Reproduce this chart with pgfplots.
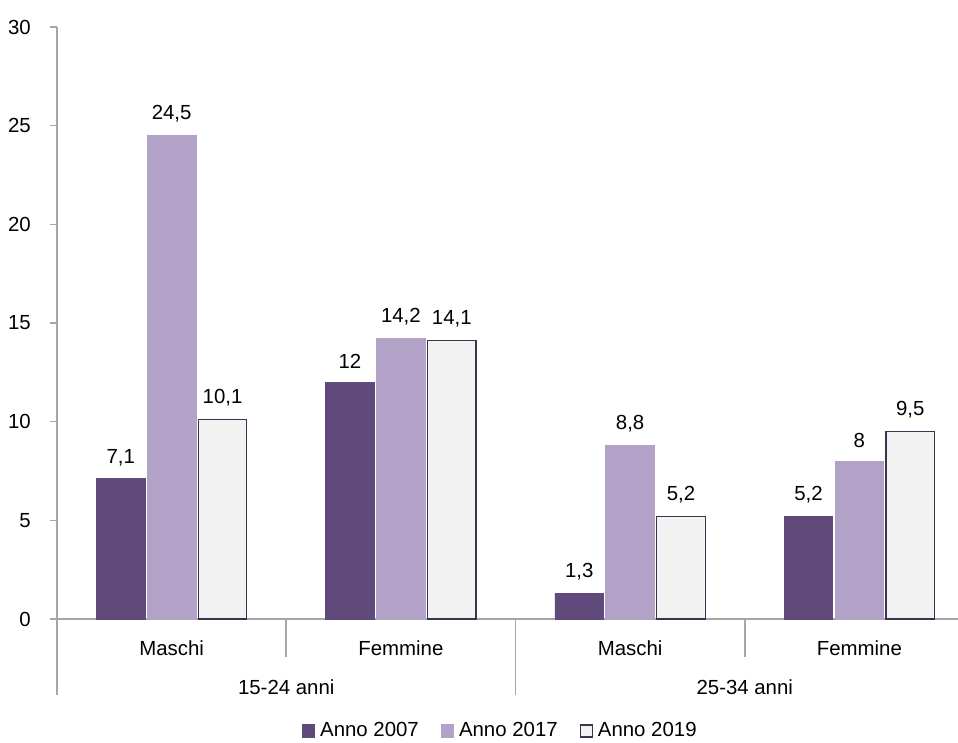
\documentclass[border=0pt]{standalone}
\usepackage{pgfplots}
\pgfplotsset{compat=1.18}
\usepackage{fontspec}
\setmainfont{Liberation Sans}
\definecolor{cA}{HTML}{604A7B}
\definecolor{cB}{HTML}{B3A2C7}
\definecolor{cC}{HTML}{F2F2F2}
\definecolor{cEdge}{HTML}{403152}
\definecolor{axgray}{HTML}{A6A6A6}
\begin{document}
\fontsize{10.2}{12}\selectfont
\begin{tikzpicture}
\begin{axis}[
  at={(0,0)}, anchor=south west,
  scale only axis, width=450.5pt, height=296pt,
  xmin=0, xmax=3.93, ymin=0, ymax=30,
  clip=false,
  axis lines*=left,
  axis line style={axgray, line width=0.8pt},
  ytick={0,5,...,30},
  tick align=outside,
  major tick length=3.5pt,
  tick style={axgray, line width=0.8pt},
  xtick={0.5,1.5,2.5,3.5},
  xticklabels={Maschi,Femmine,Maschi,Femmine},
  x tick style={draw=none},
  xticklabel style={yshift=-4pt},
  yticklabel style={xshift=-6pt},
  /pgf/number format/assume math mode=true,
  ticklabel style={font=\fontsize{10.2}{12}\selectfont},
  ybar, bar width=0.212,
  nodes near coords,
  nodes near coords style={font=\fontsize{10.2}{12}\selectfont, yshift=3pt,
    /pgf/number format/.cd, fixed, precision=1, use comma},
  legend columns=3,
  legend style={draw=none, at={(0.492,0)}, anchor=center, yshift=-56pt,
    font=\fontsize{10.2}{12}\selectfont, column sep=0pt,
    /tikz/every even column/.append style={column sep=10pt},
    /tikz/every odd column/.append style={column sep=1.5pt},
    nodes={inner xsep=1pt}},
  legend image code/.code={\draw[#1, line width=0.6pt] (0pt,-3pt) rectangle (6pt,3pt);},
]
\addplot[fill=cA, draw=cA, bar shift=-0.222] coordinates {(0.5,7.1) (1.5,12) (2.5,1.3) (3.5,5.2)};
\addplot[fill=cB, draw=cB, bar shift=0] coordinates {(0.5,24.5) (1.5,14.2) (2.5,8.8) (3.5,8)};
\addplot[fill=cC, draw=cEdge, line width=0.6pt, bar shift=0.222] coordinates {(0.5,10.1) (1.5,14.1) (2.5,5.2) (3.5,9.5)};
\legend{Anno 2007, Anno 2017, Anno 2019}
\draw[axgray, line width=0.8pt] (axis cs:1,0) -- ++(0,-19pt);
\draw[axgray, line width=0.8pt] (axis cs:3,0) -- ++(0,-19pt);
\draw[axgray, line width=0.8pt] (axis cs:2,0) -- ++(0,-38pt);
\draw[axgray, line width=0.8pt] (axis cs:0,0) -- ++(0,-38pt);
\node[font=\fontsize{10.2}{12}\selectfont] at ([yshift=-34pt]axis cs:1,0) {15-24 anni};
\node[font=\fontsize{10.2}{12}\selectfont] at ([yshift=-34pt]axis cs:3,0) {25-34 anni};
\end{axis}
\pgfresetboundingbox
\useasboundingbox (-28.5pt,-62pt) rectangle (450.5pt,309.5pt);
\end{tikzpicture}
\end{document}
